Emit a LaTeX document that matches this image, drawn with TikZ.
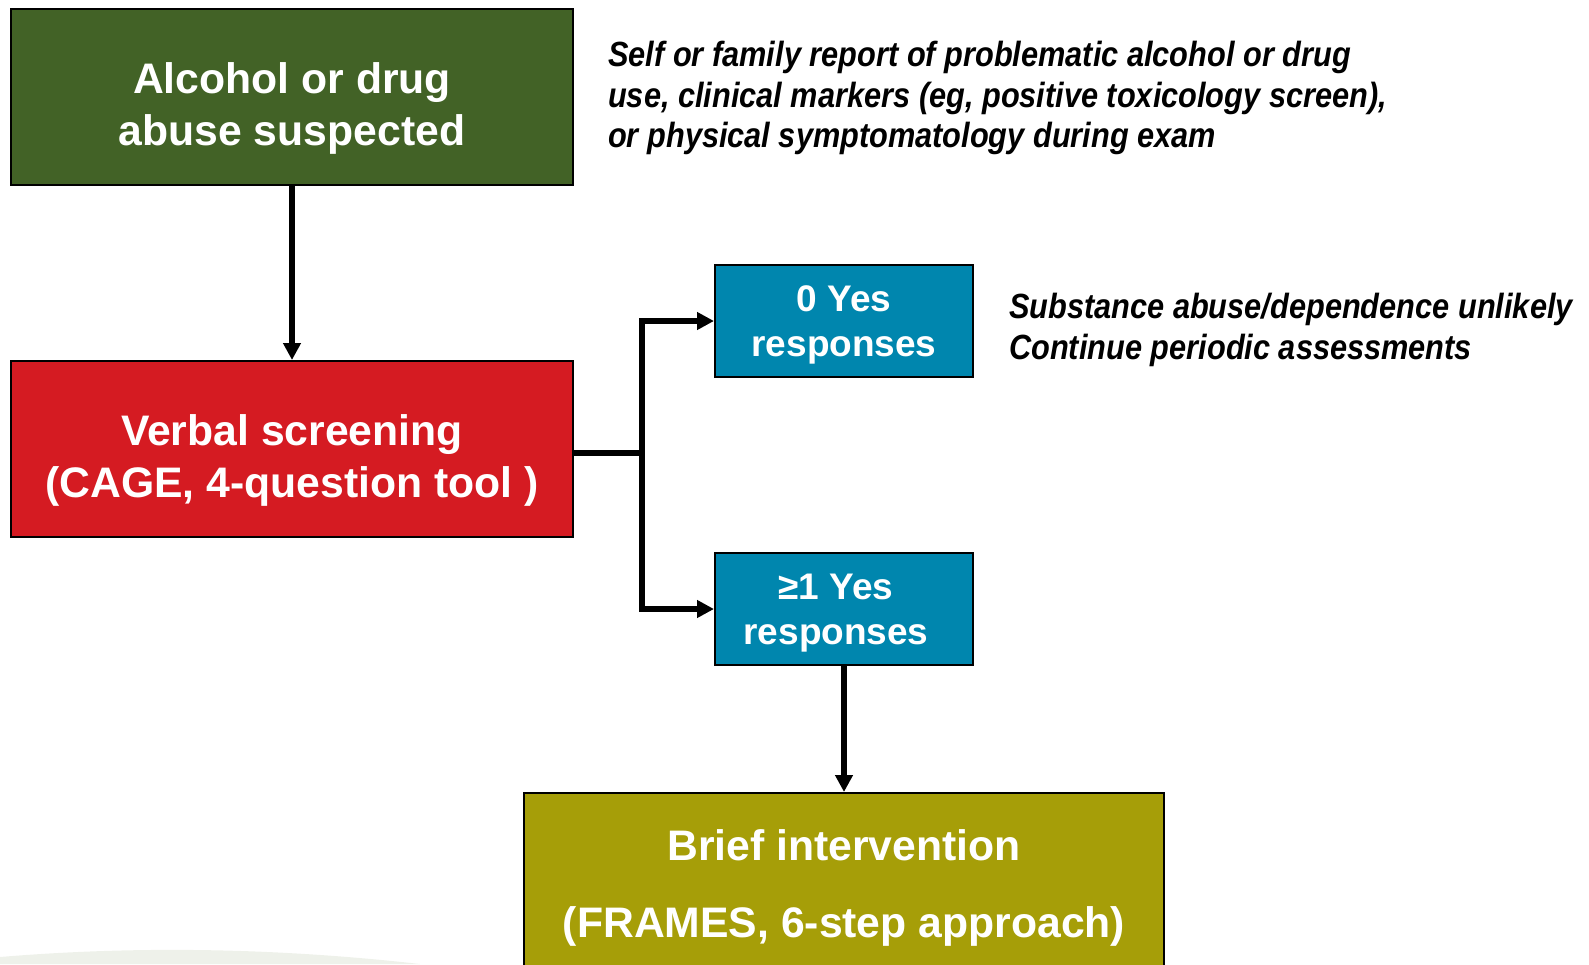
\documentclass[tikz,border=0pt]{standalone}
\usepackage{fontspec}
\setmainfont{Liberation Sans}
\newfontfamily\notefont[FakeStretch=0.878]{Liberation Sans}
\usepackage{xcolor}
\usetikzlibrary{arrows.meta}
\definecolor{suspgreen}{RGB}{66,98,38}
\definecolor{screenred}{RGB}{213,27,34}
\definecolor{answerblue}{RGB}{0,134,174}
\definecolor{briefolive}{RGB}{166,158,8}
\definecolor{swoosh}{RGB}{238,241,234}
% strut that pushes a box text down
\newcommand{\droptext}[1]{\rule{0pt}{#1}}
\tikzset{
  stagebox/.style={draw=black, line width=2pt, text=white, align=center, inner sep=0pt,
    font=\bfseries\fontsize{42.7}{52}\selectfont},
  answerbox/.style={stagebox, fill=answerblue, minimum width=258pt, minimum height=112pt,
    font=\bfseries\fontsize{37}{45}\selectfont},
  notetext/.style={anchor=north west, align=left, inner sep=0pt,
    font=\notefont\bfseries\itshape\fontsize{35}{40.5}\selectfont},
  flow/.style={line width=5.5pt},
  flowarrow/.style={flow, -{Triangle[length=17pt,width=17pt]}}
}
\begin{document}
\begin{tikzpicture}[x=1pt,y=-1pt]
\useasboundingbox (0,0) rectangle (1589,964);
\clip (0,0) rectangle (1589,964);
% faint background swoosh
\fill[swoosh] (0,957) .. controls (120,947) and (260,946) .. (420,964) -- (0,964) -- cycle;

\node[stagebox, fill=suspgreen, minimum width=562pt, minimum height=176pt] (susp) at (292,97) {\droptext{53pt}Alcohol or drug\\abuse suspected};
\node[stagebox, fill=screenred, minimum width=562pt, minimum height=176pt] (screen) at (292,449) {\droptext{53pt}Verbal screening\\(CAGE, 4-question tool )};
\node[answerbox] (zero) at (844,321) {\droptext{33pt}0 Yes\\responses};
\node[answerbox] (some) at (844,609) {\droptext{33pt}≥1 Yes\hspace*{16pt}\\responses\hspace*{16pt}};
\node[stagebox, fill=briefolive, minimum width=640pt, minimum height=190pt, anchor=north,
  font=\bfseries\fontsize{42.7}{77}\selectfont] (brief) at (844,792) {Brief intervention\\(FRAMES, 6-step approach)};

\node[notetext] (suspnote) at (608,41) {Self or family report of problematic alcohol or drug\\use, clinical markers (eg, positive toxicology screen),\\or physical symptomatology during exam};
\node[notetext] (zeronote) at (1009,293) {Substance abuse/dependence unlikely\\Continue periodic assessments};

\coordinate (fork) at (642,453);
\draw[flowarrow] (susp) -- (screen);
\draw[flow] (screen.east |- fork) -- (fork);
\draw[flowarrow] (fork) |- (zero.west);
\draw[flowarrow] (fork) |- (some.west);
\draw[flowarrow] (some) -- (brief);
\end{tikzpicture}
\end{document}
